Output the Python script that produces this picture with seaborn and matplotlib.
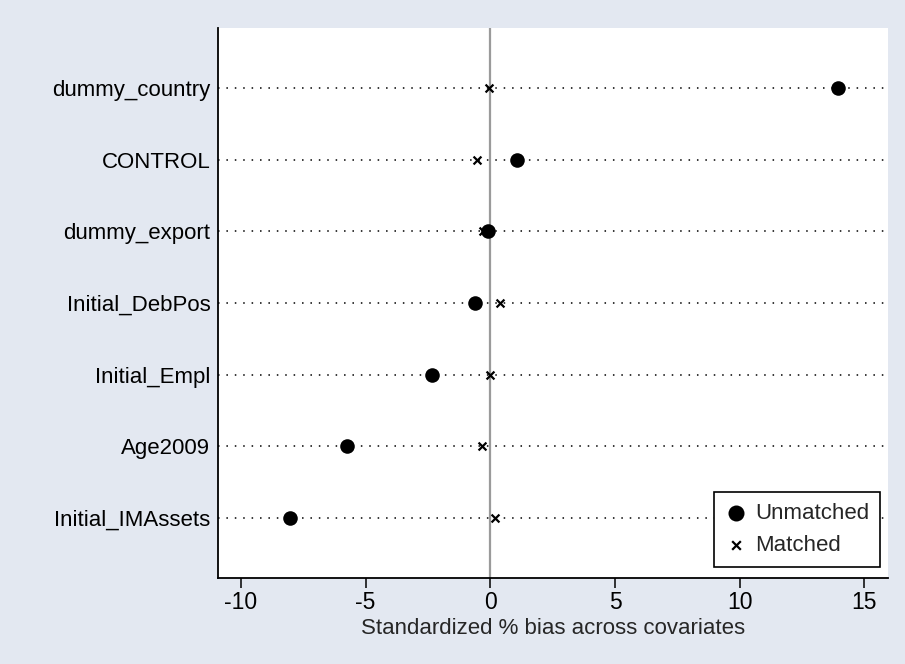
import matplotlib
matplotlib.use("Agg")
import matplotlib.pyplot as plt
import seaborn as sns
from pandas import DataFrame

covariates = ["dummy_country", "CONTROL", "dummy_export", "Initial_DebPos",
              "Initial_Empl", "Age2009", "Initial_IMAssets"]
unmatched = [13.95, 1.08, -0.08, -0.62, -2.32, -5.75, -8.02]
matched = [-0.05, -0.55, -0.3, 0.38, 0.0, -0.35, 0.2]

bg = "#e3e8f1"

sns.set_theme(style="white")
plt.rcParams["font.family"] = ["Liberation Sans", "DejaVu Sans"]
plt.rcParams["axes.unicode_minus"] = False

df_u = DataFrame({"covariate": covariates, "bias": unmatched})
df_m = DataFrame({"covariate": covariates, "bias": matched})

fig = plt.figure(figsize=(9.05, 6.64), dpi=100, facecolor=bg)
ax = fig.add_axes([0.2409, 0.1295, 0.7404, 0.8283])
ax.set_facecolor("white")

sns.scatterplot(data=df_u, x="bias", y="covariate", ax=ax, marker="o",
                s=110, color="black", edgecolor="black", linewidth=0,
                label="Unmatched", zorder=4)
sns.scatterplot(data=df_m, x="bias", y="covariate", ax=ax, marker="x",
                s=32, color="black", linewidth=1.6,
                label="Matched", zorder=4)

ax.axvline(0, color="#9a9a9a", linewidth=1.6, zorder=1)
for i in range(len(covariates)):
    ax.axhline(i, color="black", linewidth=1.1, linestyle=(0, (1, 4.5)), zorder=2)

ax.set_xlim(-10.92, 15.95)
ax.set_ylim(len(covariates) - 0.16, -0.84)
ax.set_xticks([-10, -5, 0, 5, 10, 15])
ax.set_xlabel("Standardized % bias across covariates", fontsize=16, labelpad=3)
ax.set_ylabel("")

for side in ["top", "right"]:
    ax.spines[side].set_visible(False)
for side in ["left", "bottom"]:
    ax.spines[side].set_color("black")
    ax.spines[side].set_linewidth(1.3)

ax.tick_params(axis="x", bottom=True, length=7, width=1.1, color="black",
               labelsize=16.5, pad=2, labelcolor="black")
ax.tick_params(axis="y", left=False, length=0, labelsize=16, pad=5.5,
               labelcolor="black")

leg = ax.legend(loc="lower right", bbox_to_anchor=(0.988, 0.02), fontsize=16,
                frameon=True, fancybox=False, framealpha=1, edgecolor="black",
                borderpad=0.5, handletextpad=0.35, labelspacing=0.5,
                handlelength=1.0, borderaxespad=0, markerscale=1.1)
leg.get_frame().set_linewidth(1.2)

fig.savefig("out.png", dpi=100, facecolor=bg)
